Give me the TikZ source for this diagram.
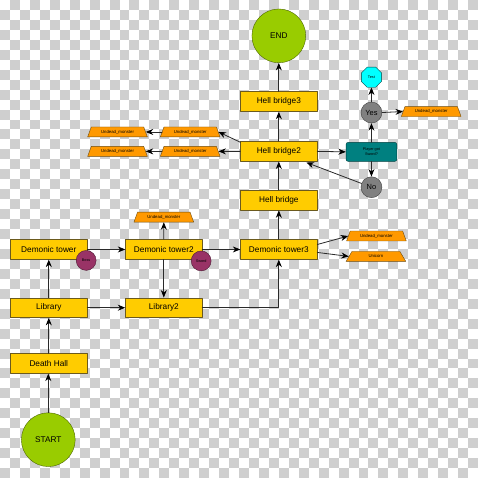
\documentclass[tikz,border=0pt]{standalone}
\usepackage{fontspec}
\setmainfont{Liberation Sans}
\usetikzlibrary{shapes.geometric, arrows.meta}

\definecolor{roomfill}{HTML}{FFCC00}
\definecolor{roomedge}{HTML}{6B5A1E}
\definecolor{monsterfill}{HTML}{FF9900}
\definecolor{monsteredge}{HTML}{6B4A10}
\definecolor{termfill}{HTML}{99CC00}
\definecolor{termedge}{HTML}{4D6600}
\definecolor{answerfill}{HTML}{808080}
\definecolor{answeredge}{HTML}{404040}
\definecolor{itemfill}{HTML}{993366}
\definecolor{itemedge}{HTML}{4C1933}
\definecolor{askfill}{HTML}{008080}
\definecolor{askedge}{HTML}{004040}
\definecolor{testfill}{HTML}{00FFFF}
\definecolor{linkgray}{HTML}{2A2A2A}
\definecolor{checker}{HTML}{CFCFCF}

\begin{document}
\begin{tikzpicture}[x=1pt, y=-1pt, line cap=round, line join=round,
    room/.style={draw=roomedge, fill=roomfill, minimum width=77pt, minimum height=20pt, inner sep=0pt, font=\fontsize{8.3}{9}\selectfont},
    monster/.style={trapezium, trapezium angle=60, trapezium stretches=true, draw=monsteredge, fill=monsterfill, minimum width=60pt, minimum height=10pt, inner sep=0pt, font=\fontsize{4.3}{5}\selectfont},
    terminal/.style={circle, draw=termedge, fill=termfill, minimum size=54pt, inner sep=0pt, font=\fontsize{8.3}{9}\selectfont},
    answer/.style={circle, draw=answeredge, fill=answerfill, minimum size=21pt, inner sep=0pt, font=\fontsize{7.5}{8}\selectfont},
    item/.style={circle, draw=itemedge, fill=itemfill, minimum size=20pt, inner sep=0pt, font=\fontsize{3.8}{4}\selectfont},
    link/.style={draw=linkgray, line width=0.8pt, -{Stealth[length=7.5pt, width=6pt, black]}}]
        % transparent background
        \fill[white] (0, 0) rectangle (474, 478);
        \foreach \i in {0,...,47} {
            \foreach \j in {0,...,47} {
                \pgfmathtruncatemacro\k{mod(\i+\j, 2)}
                \ifnum\k=1 \fill[checker] (\i*10, \j*10) rectangle ++(10, 10); \fi
            }
        }
        \useasboundingbox (0, 0) rectangle (474, 478);
        % draw rooms
        \node[terminal] (end) at (280, 36) {END};
        \node[room] (hb3) at (280, 102) {Hell bridge3};
        \node[room] (hb2) at (280, 152) {Hell bridge2};
        \node[room] (hb) at (280, 201) {Hell bridge};
        \node[room] (dt3) at (280, 250.5) {Demonic tower3};
        \node[room] (dt) at (49, 250.5) {Demonic tower};
        \node[room] (dt2) at (164.5, 250.5) {Demonic tower2};
        \node[room] (lib) at (49, 309) {Library};
        \node[room] (lib2) at (164.5, 309) {Library2};
        \node[room] (dh) at (49, 365) {Death Hall};
        \node[terminal] (start) at (48.5, 441.5) {START};
        % draw monsters
        \node[monster] (um2) at (164.5, 218) {Undead\_monster};
        \node[monster] (um3) at (378, 237) {Undead\_monster};
        \node[monster] (uni) at (377.5, 257.5) {Unicorn};
        \node[monster] (a1) at (118, 132.5) {Undead\_monster};
        \node[monster] (b1) at (191, 132.5) {Undead\_monster};
        \node[monster] (a2) at (118, 152) {Undead\_monster};
        \node[monster] (b2) at (191, 152) {Undead\_monster};
        \node[monster] (umy) at (433, 112) {Undead\_monster};
        % draw sword question
        \node[draw=askedge, fill=askfill, rounded corners=2pt, minimum width=51pt, minimum height=19pt, inner sep=0pt, align=center, font=\fontsize{3.8}{4.6}\selectfont] (ask) at (373, 152.5) {Player got\\Sword?};
        \node[answer] (yes) at (373, 113) {Yes};
        \node[answer] (no) at (373, 188) {No};
        \node[regular polygon, regular polygon sides=8, draw=askedge, fill=testfill, minimum size=22pt, inner sep=0pt, font=\fontsize{3.8}{4}\selectfont] (test) at (373, 77.5) {Test};
        % draw main path
        \draw[link] (start) -- (start |- dh.south);
        \draw[link] (dh) -- (lib);
        \draw[link] (lib) -- (dt);
        \draw[link] (lib) -- (lib2);
        \draw[link] (dt) -- (dt2);
        \draw[link] (dt2) -- (um2);
        \draw[link] (dt2) -- (lib2);
        \draw[link] (dt2) -- (dt3);
        \draw[link] (lib2.east) -| (dt3.south);
        \draw[link] ([yshift=5pt]dt3.east) -- (um3.west);
        \draw[link] ([yshift=-3pt]dt3.east) -- (uni.west);
        \draw[link] (dt3) -- (hb);
        \draw[link] (hb) -- (hb2);
        \draw[link] (hb2) -- (hb3);
        \draw[link] (hb3) -- (end);
        % draw monsters at hell bridge2
        \draw[link] ([yshift=-1pt]hb2.north west) -- (b1.east);
        \draw[link] (hb2.west) -- (b2.east);
        \draw[link] (b1.west) -- (a1.east);
        \draw[link] (b2.west) -- (a2.east);
        % draw sword check
        \draw[link] (hb2.east) -- (ask.west);
        \draw[link] (ask) -- (yes);
        \draw[link] (yes) -- (test);
        \draw[link] (yes.east) -- (umy.west);
        \draw[link] (ask) -- (no);
        \draw[link] (no) -- ([xshift=-11pt, yshift=-1pt]hb2.south east);
        % draw items
        \node[item] (boss) at (86.5, 261.5) {Boss};
        \node[item] (sword) at (202, 262) {Sword};
\end{tikzpicture}
\end{document}
